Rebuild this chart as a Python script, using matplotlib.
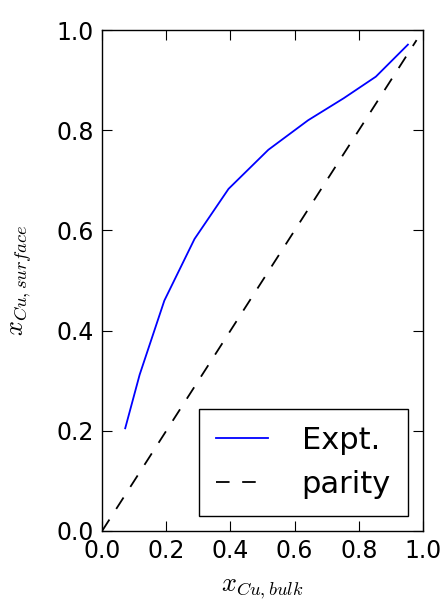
import matplotlib
matplotlib.use("Agg")
import matplotlib.pyplot as plt

x_bulk = [0.072, 0.117, 0.194, 0.288, 0.394, 0.518, 0.642, 0.753, 0.853, 0.953]
x_surface = [0.205, 0.312, 0.460, 0.583, 0.683, 0.761, 0.820, 0.864, 0.907, 0.971]
parity_x = [0.0, 0.98]
parity_y = [0.0, 0.98]
ticks = [0.0, 0.2, 0.4, 0.6, 0.8, 1.0]

plt.rcParams['mathtext.fontset'] = 'cm'
fig = plt.figure(figsize=(4.42, 6.02), dpi=100)
ax = fig.add_axes([0.231, 0.118, 0.726, 0.832])
ax.plot(x_bulk, x_surface, color='blue', lw=1.3, label='Expt.')
ax.plot(parity_x, parity_y, color='black', lw=1.3, dashes=(7.5, 7), label='parity')
ax.set_xlim(0, 1)
ax.set_ylim(0, 1)
ax.set_xticks(ticks)
ax.set_yticks(ticks)
ax.set_xticklabels([f"{t:.1f}" for t in ticks])
ax.set_yticklabels([f"{t:.1f}" for t in ticks])
ax.tick_params(direction='in', top=True, right=True, length=7, labelsize=17, pad=6)
for s in ax.spines.values():
    s.set_linewidth(1.0)
ax.set_xlabel(r'$x_{Cu,bulk}$', fontsize=19, labelpad=8.5)
ax.set_ylabel(r'$x_{Cu,surface}$', fontsize=19, labelpad=16)
leg = ax.legend(loc='lower right', fontsize=22, fancybox=False, framealpha=1,
                edgecolor='black', handlelength=1.7, handletextpad=1.1,
                borderpad=0.55, labelspacing=0.5, borderaxespad=0.5)
leg.get_frame().set_linewidth(1.0)
fig.savefig('out.png', dpi=100)
